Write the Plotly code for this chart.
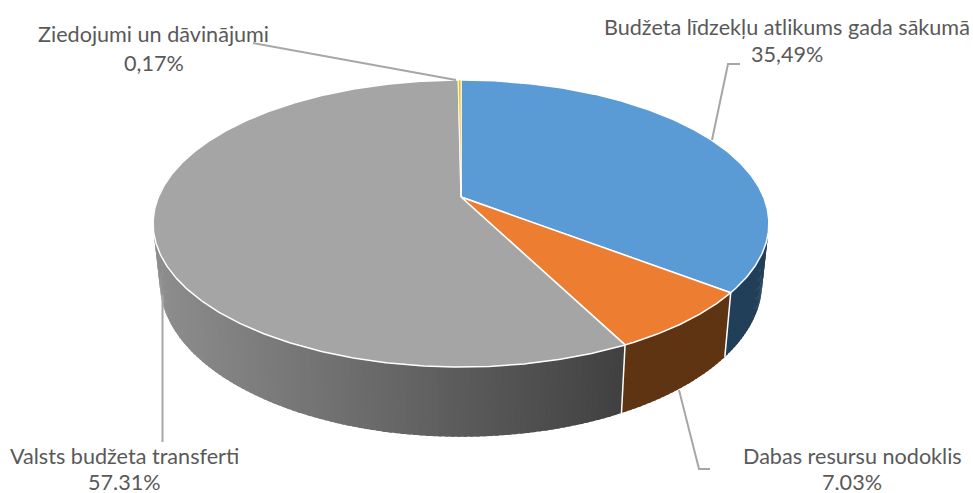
import numpy as np
import plotly.graph_objects as go

categories = ["Budžeta līdzekļu atlikums gada sākumā", "Dabas resursu nodoklis",
              "Valsts budžeta transferti", "Ziedojumi un dāvinājumi"]
values = [35.49, 7.03, 57.31, 0.17]
value_labels = ["35,49%", "7.03%", "57.31%", "0,17%"]
top_colors = ["#5B9BD5", "#ED7D31", "#A5A5A5", "#FFC000"]
wall_colors = ["#223F59", "#5F3413", None, "#806000"]
label_pos = [(787, 27, 54), (852, 456, 482), (124, 456, 482), (153.5, 34, 63)]
leaders = [
    [(740, 64), (728, 64), (712, 140)],
    [(710, 469), (699, 469), (679, 390)],
    [(162.5, 295), (162.5, 442)],
    [(253, 43), (456, 80)],
]

# projected-disc geometry (pixels of the 973x493 canvas)
CX, K = 461.0, 0.1847
TOP = dict(a=302.6, b=138.6, y0=197.0)
BOT = dict(a=296.0, b=149.0, y0=254.0)


def project(theta_deg, plane):
    t = np.radians(theta_deg)
    d = 1 + K * np.cos(t)
    return CX + plane["a"] * np.sin(t) / d, plane["y0"] - plane["b"] * np.cos(t) / d


def gray_wall(x):
    f = float(np.clip((x - 160) / (625 - 160), 0, 1))
    g = 0x8E + (0x40 - 0x8E) * f
    return f"rgb({g:.0f},{g:.0f},{g:.0f})"


edges = np.concatenate([[0], np.cumsum(values)]) / np.sum(values) * 360
fig = go.Figure()


def poly(xs, ys, fill, line_color, width):
    fig.add_trace(go.Scatter(x=xs, y=ys, mode="lines", fill="toself", fillcolor=fill,
                             line=dict(color=line_color, width=width),
                             hoverinfo="skip", showlegend=False))


# walls, painted as thin overlapping strips so the silhouette is complete
for i in range(len(values)):
    lo, hi = edges[i], edges[i + 1]
    lo_v, hi_v = max(lo, 75), min(hi, 285)
    if hi_v <= lo_v:
        continue
    steps = np.arange(hi_v, lo_v - 1, -1.0)
    steps[-1] = lo_v
    for a, b in zip(steps[:-1], steps[1:]):
        th = np.array([min(a + 0.6, hi_v), b])
        xt, yt = project(th, TOP)
        xb, yb = project(th, BOT)
        c = wall_colors[i] or gray_wall(xb.mean())
        poly(list(xt) + list(xb[::-1]), list(yt) + list(yb[::-1]), c, c, 0)

# wall dividers
for e in edges[1:3]:
    xt, yt = project(e, TOP)
    xb, yb = project(e, BOT)
    fig.add_trace(go.Scatter(x=[xt, xb], y=[yt, yb], mode="lines",
                             line=dict(color="#FFFFFF", width=1.5),
                             hoverinfo="skip", showlegend=False))

# top faces
for i in range(len(values)):
    th = np.linspace(edges[i], edges[i + 1], max(3, int((edges[i + 1] - edges[i]) * 2)))
    x, y = project(th, TOP)
    w = 1.5 if values[i] > 1 else 0.8
    poly([CX] + list(x) + [CX], [TOP["y0"]] + list(y) + [TOP["y0"]], top_colors[i], "#FFFFFF", w)

shapes = []
for pts in leaders:
    path = "M " + " L ".join(f"{x} {y}" for x, y in pts)
    shapes.append(dict(type="path", path=path, line=dict(color="#A6A6A6", width=2),
                       xref="x", yref="y", layer="above"))

annotations = []
for c, v, p in zip(categories, value_labels, label_pos):
    for text, y in ((c, p[1]), (v, p[2])):
        annotations.append(dict(x=p[0], y=y, xref="x", yref="y", text=text, showarrow=False,
                                align="center", xanchor="center", yanchor="middle",
                                font=dict(family="Lato", size=21.6, color="#595959")))

fig.update_layout(
    width=973, height=493, margin=dict(l=0, r=0, t=0, b=0),
    paper_bgcolor="#FFFFFF", plot_bgcolor="#FFFFFF", showlegend=False,
    xaxis=dict(range=[0, 973], visible=False, fixedrange=True),
    yaxis=dict(range=[493, 0], visible=False, fixedrange=True),
    shapes=shapes, annotations=annotations,
)
fig.write_html("out.html", config={"displayModeBar": False},
               post_script="document.body.style.margin='0';document.body.style.overflow='hidden';")
